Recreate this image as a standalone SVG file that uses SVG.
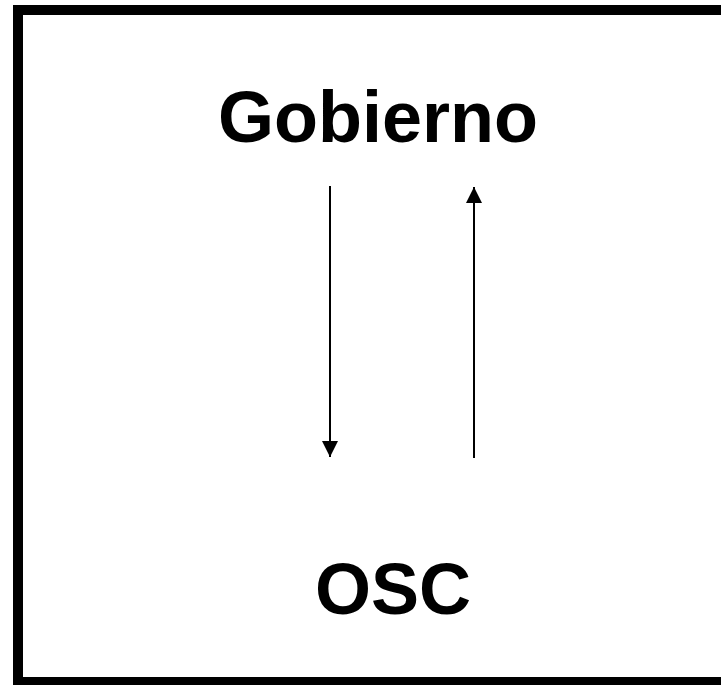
<svg xmlns="http://www.w3.org/2000/svg" width="721" height="685" viewBox="0 0 721 685">
<style>
.lbl{font-family:"Liberation Sans",Arial,sans-serif;font-weight:bold;font-size:72px;fill:#000;text-anchor:middle}
.conn{stroke:#000;stroke-width:2;fill:none}
</style>
<defs>
<marker id="ah" markerUnits="userSpaceOnUse" markerWidth="16" markerHeight="16" viewBox="0 0 16 16" refX="16" refY="8" orient="auto">
<path d="M0,0 L16,8 L0,16 Z" fill="#000"/>
</marker>
</defs>
<rect width="721" height="685" fill="#fff"/>
<rect id="frame" x="18" y="10" width="720" height="672" fill="none" stroke="#000" stroke-width="10"/>
<g id="gobierno"><text class="lbl" x="378" y="142">Gobierno</text></g>
<g id="osc"><text class="lbl" x="393" y="614">OSC</text></g>
<g id="connectors">
<line class="conn" x1="330" y1="186" x2="330" y2="457" marker-end="url(#ah)"/>
<line class="conn" x1="474" y1="458" x2="474" y2="187" marker-end="url(#ah)"/>
</g>
</svg>
